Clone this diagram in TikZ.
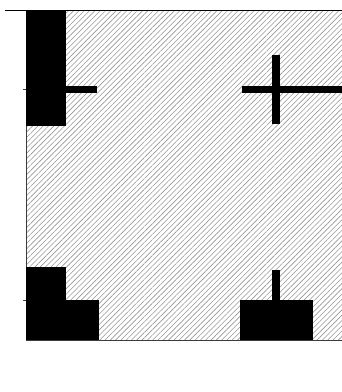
\documentclass[tikz,border=0pt]{standalone}
\usepackage{xcolor}
\usepackage{tikz}
\definecolor{hatchgray}{RGB}{150, 150, 150}
\definecolor{edgegray}{RGB}{60, 60, 60}
\usetikzlibrary{patterns.meta}

\begin{document}
\begin{tikzpicture}[
    x=1pt, y=-1pt,
    hatched/.style={
        pattern={Lines[angle=45, distance=3.75pt, line width=0.6pt]},
        pattern color=hatchgray
    },
    block/.style={
        fill=black
    },
    rim/.style={
        line width=0.8pt,
        draw=edgegray
    }
]
    \useasboundingbox (0,0) rectangle (342,392);

    % Hatched field
    \fill[hatched] (26,10) rectangle (342,340);

    % Frame
    \draw[line width=1pt] (5,10) -- (342,10);
    \draw[rim] (26,10) -- (26,340) -- (342,340);
    \draw[rim] (23,89) -- (26,89);
    \draw[rim] (23,300) -- (26,300);

    % Upper left block and bar
    \fill[block] (26,10) rectangle (66,126);
    \fill[block] (26,86) rectangle (97,93);

    % Upper right cross
    \fill[block] (242,86) rectangle (342,93);
    \fill[block] (272,55) rectangle (280,124);

    % Lower left step
    \fill[block] (26,267) rectangle (66,340);
    \fill[block] (26,300) rectangle (99,340);

    % Lower right block with stem
    \fill[block] (240,300) rectangle (313,340);
    \fill[block] (272,270) rectangle (280,300);
\end{tikzpicture}
\end{document}
